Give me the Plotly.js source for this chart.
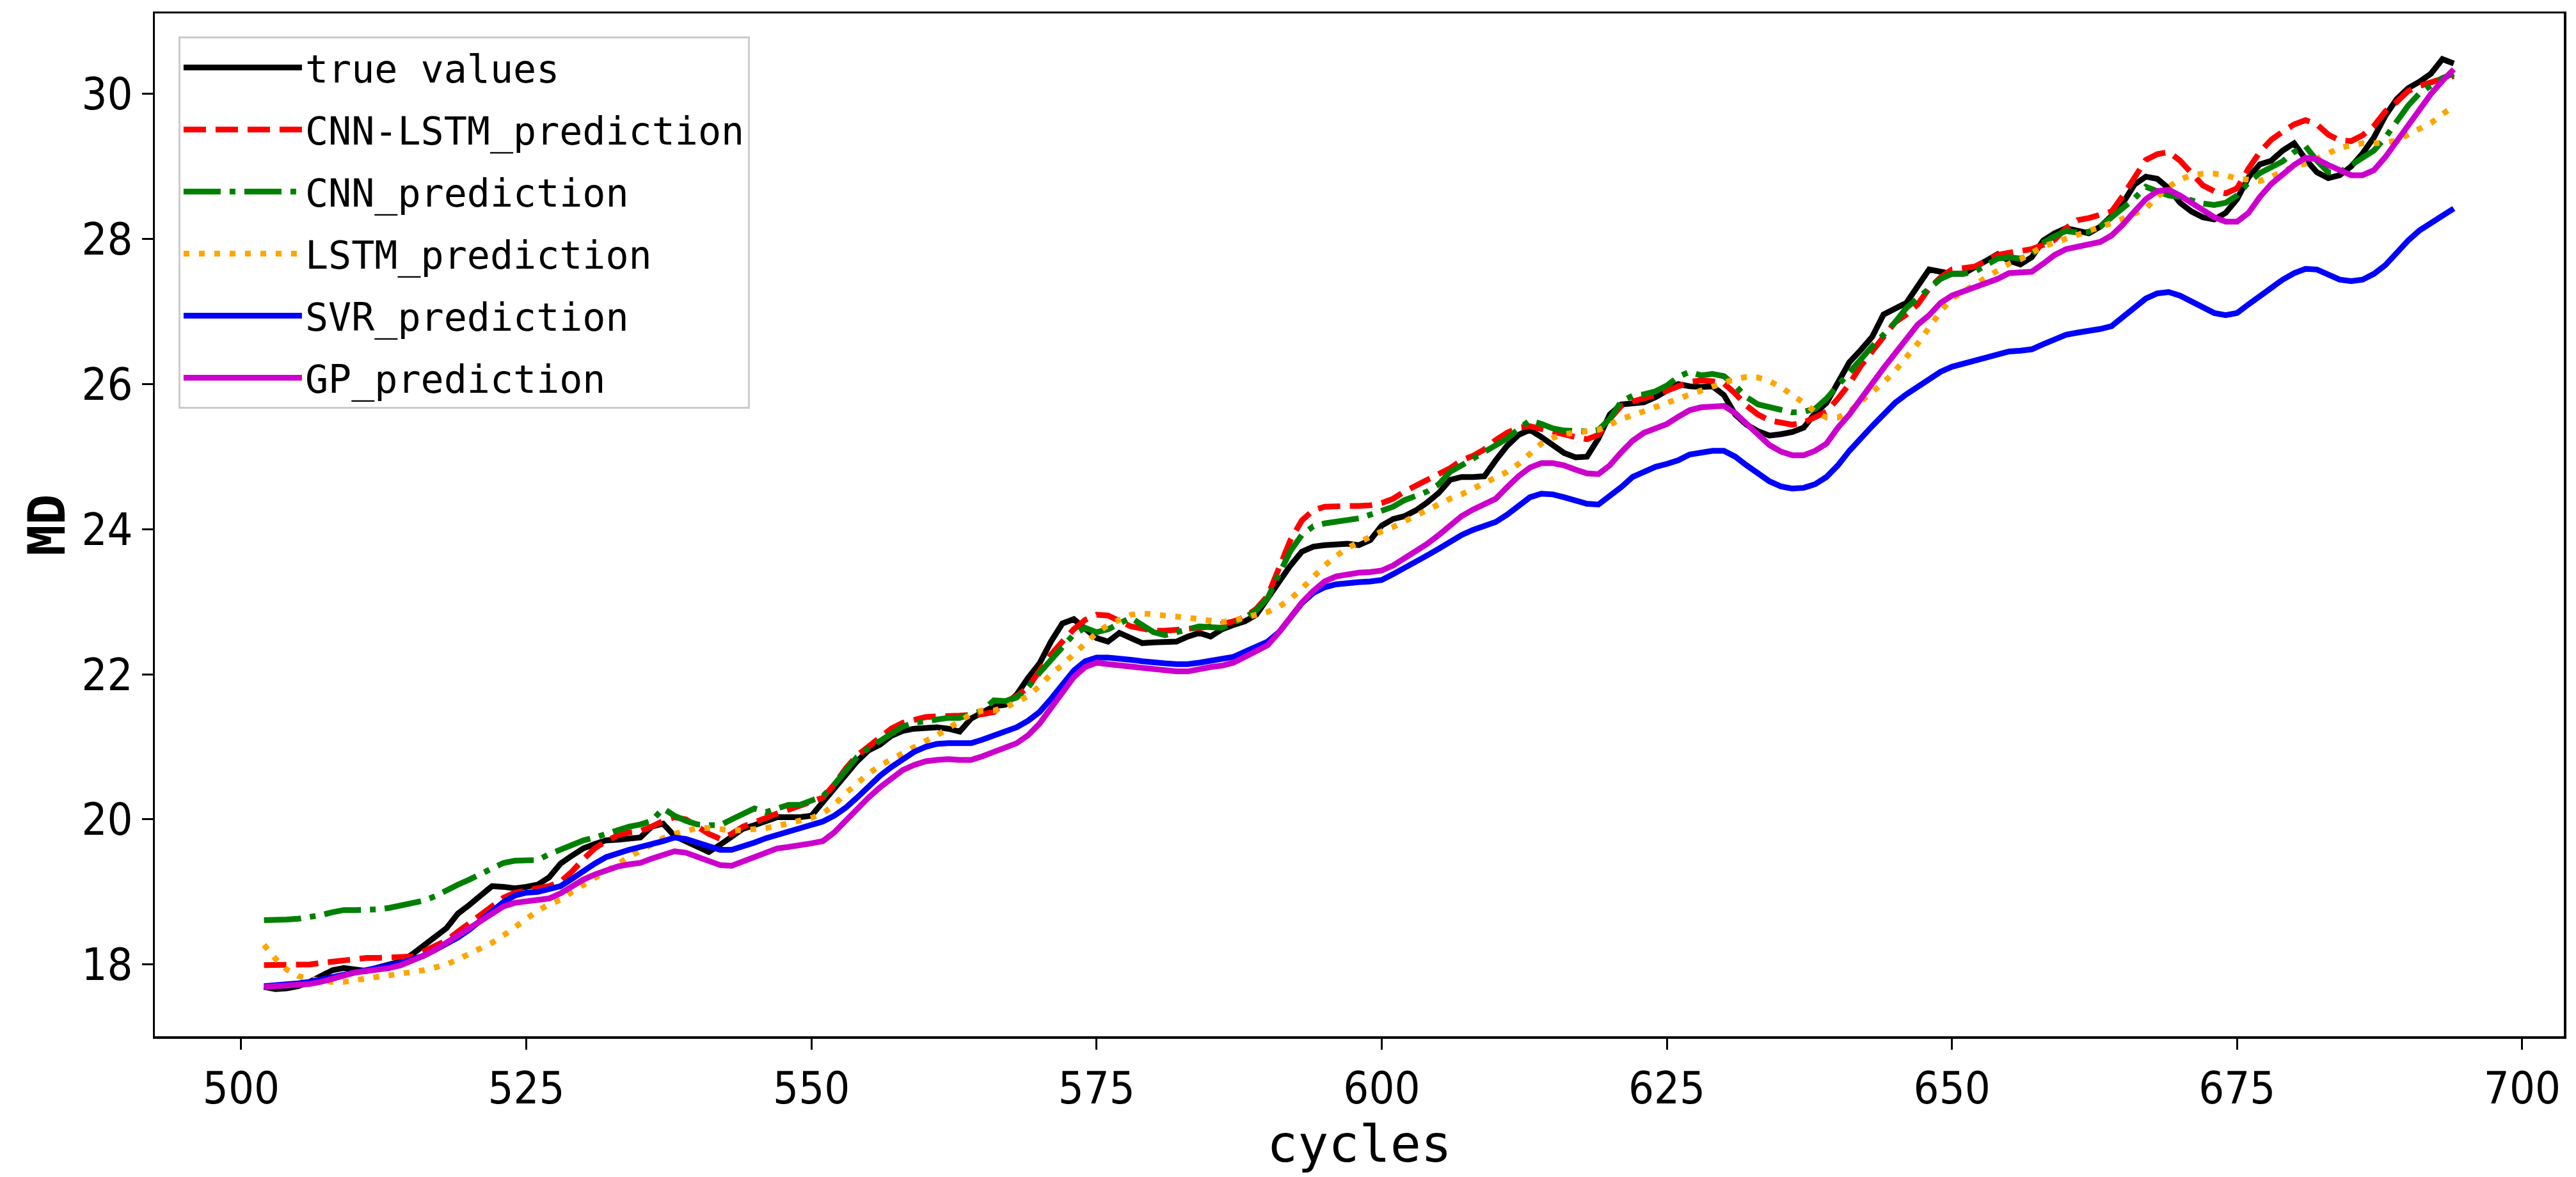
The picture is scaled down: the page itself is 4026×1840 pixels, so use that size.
<!DOCTYPE html>
<html>
<head>
<meta charset="utf-8">
<script src="https://cdn.plot.ly/plotly-3.0.1.min.js"></script>
<style>html,body{margin:0;padding:0;background:#fff;}#chart{width:4026px;height:1840px;}</style>
</head>
<body>
<div id="chart"></div>
<script>
// cycles 502..694
const cycleStart = 502, cycleEnd = 694;
const cycles = [];
for (let c = cycleStart; c <= cycleEnd; c++) cycles.push(c);

const seriesNames = ["true values", "CNN-LSTM_prediction", "CNN_prediction", "LSTM_prediction", "SVR_prediction", "GP_prediction"];

const trueValues = [
17.69,17.66,17.67,17.70,17.76,17.84,17.92,17.95,17.92,17.91,
17.96,18.00,18.04,18.14,18.25,18.38,18.50,18.70,18.82,18.95,
19.08,19.07,19.05,19.07,19.10,19.20,19.39,19.50,19.60,19.66,
19.71,19.72,19.73,19.75,19.90,19.94,19.77,19.70,19.62,19.55,
19.65,19.77,19.87,19.92,19.98,20.03,20.03,20.03,20.05,20.24,
20.40,20.60,20.80,20.95,21.03,21.15,21.22,21.25,21.26,21.27,
21.25,21.21,21.39,21.48,21.56,21.58,21.72,21.95,22.15,22.45,
22.70,22.76,22.62,22.50,22.45,22.57,22.50,22.43,22.44,22.45,
22.45,22.52,22.57,22.52,22.62,22.68,22.73,22.82,23.05,23.26,
23.50,23.69,23.76,23.78,23.80,23.80,23.78,23.85,24.05,24.14,
24.18,24.26,24.37,24.50,24.68,24.72,24.72,24.73,24.95,25.15,
25.30,25.37,25.27,25.15,25.05,24.99,25.00,25.25,25.58,25.72,
25.74,25.75,25.82,25.90,26.00,25.97,25.96,25.97,25.85,25.58,
25.44,25.35,25.29,25.31,25.34,25.40,25.60,25.74,26.03,26.30,
26.47,26.65,26.96,27.05,27.12,27.35,27.58,27.55,27.52,27.52,
27.60,27.70,27.79,27.70,27.65,27.75,27.98,28.08,28.15,28.12,
28.08,28.17,28.32,28.50,28.75,28.86,28.83,28.70,28.50,28.38,
28.30,28.27,28.36,28.55,28.85,29.03,29.08,29.22,29.32,29.10,
28.92,28.84,28.88,29.00,29.18,29.40,29.70,29.93,30.08,30.17,
30.28,30.48,30.42];

const cnnLstm = [
17.99,17.99,17.99,18.00,18.00,18.02,18.04,18.05,18.07,18.09,
18.09,18.10,18.11,18.11,18.18,18.26,18.33,18.45,18.57,18.70,
18.82,18.92,18.99,19.02,19.04,19.08,19.14,19.28,19.45,19.60,
19.70,19.78,19.82,19.84,19.90,19.98,20.03,20.00,19.90,19.80,
19.73,19.80,19.90,19.95,20.02,20.08,20.13,20.19,20.24,20.30,
20.48,20.70,20.88,21.00,21.12,21.25,21.33,21.38,21.41,21.42,
21.42,21.43,21.44,21.45,21.48,21.62,21.70,21.82,22.05,22.27,
22.45,22.62,22.75,22.82,22.81,22.74,22.66,22.63,22.60,22.60,
22.61,22.62,22.64,22.66,22.69,22.73,22.79,22.90,23.08,23.45,
23.85,24.12,24.26,24.31,24.32,24.32,24.32,24.33,24.36,24.42,
24.52,24.60,24.68,24.76,24.84,24.95,25.01,25.10,25.23,25.33,
25.40,25.42,25.38,25.33,25.30,25.27,25.24,25.30,25.52,25.70,
25.76,25.80,25.85,25.91,25.96,26.03,26.05,26.04,26.01,25.87,
25.70,25.58,25.50,25.46,25.44,25.47,25.54,25.62,25.80,26.00,
26.25,26.45,26.65,26.85,26.96,27.10,27.32,27.47,27.58,27.60,
27.62,27.70,27.78,27.81,27.83,27.86,27.92,27.99,28.15,28.26,
28.29,28.33,28.38,28.60,28.85,29.09,29.17,29.20,29.08,28.90,
28.74,28.66,28.63,28.70,28.97,29.20,29.37,29.48,29.58,29.64,
29.58,29.44,29.36,29.35,29.43,29.56,29.76,29.89,30.04,30.11,
30.17,30.21,30.25];

const cnn = [
18.61,18.61,18.62,18.63,18.65,18.68,18.72,18.75,18.75,18.75,
18.76,18.78,18.81,18.84,18.88,18.94,19.03,19.10,19.17,19.25,
19.33,19.40,19.43,19.43,19.44,19.52,19.58,19.66,19.71,19.75,
19.80,19.86,19.90,19.93,19.98,20.15,20.05,19.98,19.93,19.92,
19.92,20.00,20.08,20.15,20.10,20.15,20.20,20.20,20.26,20.32,
20.48,20.68,20.86,20.98,21.08,21.20,21.28,21.33,21.36,21.39,
21.40,21.40,21.44,21.50,21.64,21.63,21.68,21.82,22.02,22.20,
22.37,22.55,22.64,22.58,22.62,22.70,22.78,22.68,22.58,22.54,
22.58,22.62,22.66,22.65,22.64,22.71,22.78,22.88,23.05,23.38,
23.70,23.92,24.04,24.08,24.10,24.12,24.15,24.20,24.25,24.31,
24.40,24.47,24.52,24.62,24.79,24.88,24.97,25.05,25.15,25.25,
25.38,25.50,25.45,25.39,25.36,25.35,25.35,25.37,25.52,25.76,
25.84,25.86,25.90,25.98,26.10,26.17,26.12,26.14,26.11,25.98,
25.82,25.72,25.68,25.64,25.61,25.62,25.66,25.80,25.98,26.18,
26.35,26.52,26.68,26.85,27.05,27.18,27.32,27.45,27.52,27.52,
27.55,27.65,27.73,27.75,27.73,27.78,27.95,28.04,28.11,28.09,
28.10,28.17,28.30,28.42,28.56,28.72,28.66,28.60,28.58,28.53,
28.49,28.47,28.50,28.60,28.78,28.91,28.98,29.07,29.20,29.28,
29.08,28.92,28.92,29.02,29.12,29.22,29.40,29.62,29.84,30.01,
30.12,30.22,30.28];

const lstm = [
18.27,18.08,17.93,17.84,17.80,17.78,17.76,17.76,17.79,17.82,
17.83,17.85,17.87,17.89,17.92,17.96,18.00,18.07,18.14,18.21,
18.30,18.40,18.52,18.64,18.74,18.83,18.89,19.00,19.10,19.19,
19.30,19.39,19.48,19.57,19.66,19.74,19.80,19.84,19.88,19.88,
19.86,19.85,19.85,19.86,19.88,19.91,19.94,19.97,20.02,20.08,
20.20,20.36,20.50,20.63,20.74,20.83,20.92,21.00,21.08,21.16,
21.25,21.34,21.45,21.50,21.50,21.54,21.62,21.70,21.84,22.00,
22.13,22.27,22.42,22.57,22.68,22.76,22.82,22.84,22.83,22.81,
22.80,22.78,22.76,22.73,22.72,22.74,22.78,22.82,22.86,22.93,
23.04,23.18,23.34,23.50,23.63,23.74,23.82,23.90,23.97,24.03,
24.11,24.17,24.26,24.34,24.42,24.48,24.56,24.63,24.70,24.79,
24.90,25.03,25.18,25.26,25.31,25.33,25.35,25.37,25.44,25.52,
25.57,25.62,25.68,25.74,25.80,25.86,25.91,25.96,26.02,26.07,
26.10,26.09,26.04,25.96,25.86,25.74,25.62,25.54,25.54,25.62,
25.76,25.88,26.02,26.18,26.36,26.56,26.78,27.00,27.18,27.28,
27.38,27.48,27.58,27.66,27.72,27.82,27.90,27.95,28.00,28.05,
28.10,28.15,28.22,28.28,28.34,28.42,28.58,28.72,28.82,28.88,
28.90,28.90,28.88,28.83,28.82,28.80,28.86,28.94,29.00,29.04,
29.10,29.18,29.26,29.30,29.32,29.32,29.33,29.36,29.44,29.52,
29.60,29.72,29.83];

const svr = [
17.70,17.71,17.72,17.74,17.76,17.79,17.82,17.86,17.90,17.93,
17.96,17.99,18.02,18.07,18.12,18.20,18.28,18.37,18.48,18.60,
18.73,18.86,18.95,18.99,19.00,19.03,19.08,19.18,19.29,19.39,
19.48,19.54,19.58,19.62,19.65,19.70,19.75,19.73,19.68,19.62,
19.58,19.58,19.62,19.68,19.74,19.79,19.84,19.89,19.93,19.97,
20.05,20.16,20.30,20.45,20.60,20.72,20.83,20.93,21.00,21.04,
21.05,21.05,21.05,21.10,21.16,21.22,21.27,21.36,21.48,21.66,
21.86,22.05,22.18,22.23,22.23,22.22,22.20,22.18,22.16,22.15,
22.14,22.14,22.16,22.18,22.20,22.24,22.31,22.38,22.45,22.58,
22.78,22.98,23.12,23.20,23.24,23.26,23.27,23.28,23.30,23.38,
23.46,23.55,23.64,23.73,23.83,23.92,23.99,24.04,24.10,24.20,
24.32,24.44,24.49,24.48,24.44,24.40,24.35,24.34,24.45,24.58,
24.72,24.80,24.86,24.90,24.95,25.03,25.06,25.08,25.08,25.00,
24.88,24.76,24.66,24.59,24.56,24.57,24.62,24.72,24.88,25.08,
25.26,25.42,25.58,25.74,25.86,25.96,26.08,26.17,26.24,26.28,
26.32,26.36,26.41,26.45,26.46,26.48,26.55,26.62,26.68,26.71,
26.73,26.76,26.80,26.92,27.06,27.18,27.25,27.27,27.22,27.14,
27.06,26.98,26.95,26.98,27.10,27.22,27.33,27.44,27.53,27.59,
27.58,27.51,27.44,27.42,27.44,27.52,27.64,27.81,27.98,28.12,
28.22,28.32,28.42];

const gp = [
17.69,17.70,17.70,17.71,17.73,17.76,17.81,17.86,17.89,17.91,
17.93,17.95,17.99,18.05,18.12,18.20,18.30,18.40,18.50,18.60,
18.70,18.80,18.85,18.87,18.88,18.91,18.98,19.08,19.17,19.24,
19.30,19.35,19.38,19.40,19.46,19.52,19.56,19.54,19.48,19.42,
19.37,19.36,19.42,19.50,19.56,19.60,19.62,19.64,19.67,19.70,
19.82,19.98,20.15,20.30,20.44,20.56,20.68,20.75,20.80,20.82,
20.83,20.82,20.82,20.87,20.94,20.99,21.05,21.16,21.32,21.53,
21.74,21.96,22.10,22.16,22.14,22.12,22.10,22.08,22.06,22.05,
22.04,22.04,22.08,22.10,22.12,22.16,22.24,22.32,22.40,22.58,
22.78,22.99,23.15,23.28,23.35,23.38,23.40,23.41,23.43,23.50,
23.60,23.69,23.80,23.92,24.05,24.18,24.27,24.34,24.42,24.58,
24.73,24.85,24.91,24.91,24.88,24.82,24.77,24.76,24.88,25.06,
25.22,25.33,25.40,25.45,25.55,25.64,25.68,25.69,25.70,25.60,
25.45,25.32,25.16,25.07,25.02,25.02,25.08,25.18,25.40,25.58,
25.80,26.00,26.22,26.42,26.62,26.82,26.95,27.12,27.22,27.28,
27.34,27.38,27.45,27.53,27.54,27.55,27.66,27.78,27.86,27.90,
27.92,27.96,28.05,28.20,28.38,28.55,28.66,28.68,28.60,28.50,
28.40,28.30,28.24,28.24,28.36,28.58,28.76,28.90,29.02,29.12,
29.10,29.02,28.94,28.88,28.88,28.95,29.13,29.35,29.55,29.80,
30.00,30.18,30.34];

const xTickVals = [500, 525, 550, 575, 600, 625, 650, 675, 700];
const yTickVals = [18, 20, 22, 24, 26, 28, 30];

const seriesValues = [trueValues, cnnLstm, cnn, lstm, svr, gp];
const colors = ["#000000", "#ff0000", "#008000", "#ffa500", "#0000ff", "#cc00cc"];
const dashes = ["solid", "35px,15px", "58px,14px,9px,14px", "9px,15px", "solid", "solid"];
const LW = 9;

const traces = seriesNames.map((name, i) => ({
  type: "scatter",
  mode: "lines",
  name: name,
  legendgroup: "g" + i,
  x: cycles,
  y: seriesValues[i],
  line: { color: colors[i], width: LW, dash: dashes[i] }
}));

const tickFont = { family: "Liberation Sans Narrow, Arial Narrow, DejaVu Sans Condensed, Liberation Sans, sans-serif", size: 70, color: "#000" };
const labelFont = { family: "DejaVu Sans Mono, Liberation Mono, monospace", size: 80, color: "#000" };

const axisCommon = {
  showgrid: false,
  zeroline: false,
  showline: true,
  linecolor: "#000",
  linewidth: 3.5,
  mirror: true,
  ticks: "outside",
  ticklen: 17,
  tickwidth: 3,
  tickcolor: "#000",
  tickfont: tickFont
};

const layout = {
  width: 4026,
  height: 1840,
  margin: { l: 242, r: 19, t: 21, b: 220, pad: 0 },
  paper_bgcolor: "#fff",
  plot_bgcolor: "#fff",
  showlegend: true,
  xaxis: Object.assign({}, axisCommon, {
    range: [492.43, 703.65],
    tickmode: "array",
    tickvals: xTickVals,
    ticktext: xTickVals.map(String),
    title: { text: "cycles", font: labelFont, standoff: 0 }
  }),
  yaxis: Object.assign({}, axisCommon, {
    range: [17.01, 31.11],
    tickmode: "array",
    tickvals: yTickVals,
    ticktext: yTickVals.map(String),
    title: { text: "<b>MD</b>", font: labelFont, standoff: 0 }
  }),
  legend: {
    x: 0.0098,
    y: 0.9775,
    xanchor: "left",
    yanchor: "top",
    bgcolor: "rgba(255,255,255,0.8)",
    bordercolor: "#cccccc",
    borderwidth: 3,
    font: { family: "DejaVu Sans Mono, Liberation Mono, monospace", size: 60, color: "#000" },
    itemwidth: 185,
    tracegroupgap: 16,
    traceorder: "grouped"
  }
};

Plotly.newPlot("chart", traces, layout, { staticPlot: true, displayModeBar: false });
</script>
</body>
</html>
